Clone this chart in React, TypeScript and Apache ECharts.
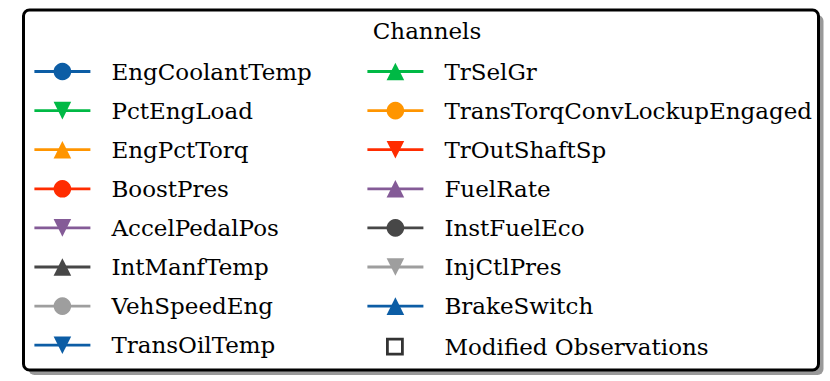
import React, { useEffect, useRef } from "react";
import * as echarts from "echarts";

const titleText = "Channels";
const channels = [
  "EngCoolantTemp", "PctEngLoad", "EngPctTorq", "BoostPres", "AccelPedalPos",
  "IntManfTemp", "VehSpeedEng", "TransOilTemp", "TrSelGr", "TransTorqConvLockupEngaged",
  "TrOutShaftSp", "FuelRate", "InstFuelEco", "InjCtlPres", "BrakeSwitch",
];
const channelColors = [
  "#0C5DA5", "#00B945", "#FF9500", "#FF2C00", "#845B97", "#474747", "#9E9E9E",
  "#0C5DA5", "#00B945", "#FF9500", "#FF2C00", "#845B97", "#474747", "#9E9E9E", "#0C5DA5",
];
const markerKinds = ["circle", "down", "up", "circle", "down", "up", "circle", "down", "up", "circle", "down", "up", "circle", "down", "up"];
const modifiedLabel = "Modified Observations";

const DOWN = "path://M0,0L2,0L1,2Z";
const UP = "path://M1,0L2,2L0,2Z";
const symbolOf = (k: string) => (k === "circle" ? "circle" : k === "down" ? DOWN : UP);

const FONT = "DejaVu Serif";
const FS = 23;
const ITEM_H = 22;
const PITCH = 39.3;
const EFFECTIVE_H = 23.2;
const TOP0 = 60;

export default function App() {
  const ref = useRef<HTMLDivElement>(null);
  useEffect(() => {
    if (!ref.current) return;
    const chart = echarts.init(ref.current, null, { renderer: "svg" });
    const series: any[] = channels.map((name, i) => ({
      name,
      type: "line",
      data: [],
      color: channelColors[i],
      symbol: symbolOf(markerKinds[i]),
      lineStyle: { width: 2.8, color: channelColors[i] },
      itemStyle: { color: channelColors[i] },
    }));
    series.push({
      name: modifiedLabel,
      type: "scatter",
      data: [],
      symbol: "rect",
      itemStyle: { color: "#fff", borderColor: "#000", borderWidth: 2.5 },
    });
    const textStyle = { fontFamily: FONT, fontSize: FS, color: "#000", lineHeight: 21, padding: [0, 0, 0, 16] };
    const baseLegend = {
      orient: "vertical",
      itemWidth: 56,
      itemHeight: ITEM_H,
      itemGap: PITCH - EFFECTIVE_H,
      padding: 0,
      selectedMode: false,
      textStyle,
      lineStyle: { width: 2.8 },
      itemStyle: { borderWidth: 0 },
    };
    chart.setOption({
      animation: false,
      backgroundColor: "#fff",
      title: {
        text: titleText,
        left: 422,
        top: 14,
        textAlign: "center",
        textStyle: { fontFamily: FONT, fontSize: FS, fontWeight: "normal", color: "#000" },
      },
      grid: { show: false, left: 0, top: 0, width: 10, height: 10 },
      xAxis: { show: false, type: "value" },
      yAxis: { show: false, type: "value" },
      graphic: [
        { type: "rect", z: -10, shape: { x: 28.5, y: 15, width: 795, height: 360, r: 6 }, style: { fill: "#999", stroke: "none" } },
        { type: "rect", z: -9, shape: { x: 23.5, y: 10, width: 795, height: 360, r: 6 }, style: { fill: "#fff", stroke: "#000", lineWidth: 3 } },
      ],
      legend: [
        { ...baseLegend, left: 33, top: TOP0, data: channels.slice(0, 8) },
        { ...baseLegend, left: 366, top: TOP0, data: channels.slice(8) },
        {
          ...baseLegend,
          left: 386,
          top: TOP0 + 7 * PITCH,
          itemWidth: 15,
          itemHeight: 15,
          textStyle: { ...textStyle, padding: [0, 0, 0, 37] },
          data: [{ name: modifiedLabel, icon: "rect", itemStyle: { color: "#fff", borderColor: "#000", borderWidth: 2.8 } }],
        },
      ],
      series,
    });
    return () => chart.dispose();
  }, []);
  return <div ref={ref} style={{ position: "fixed", left: 0, top: 0, width: 830, height: 381 }} />;
}
